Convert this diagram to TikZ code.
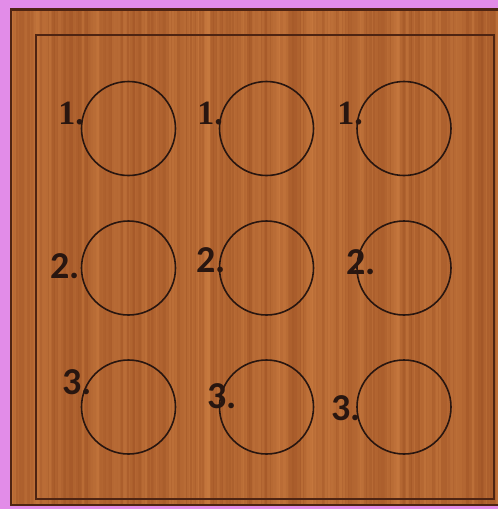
\documentclass[tikz,border=0pt]{standalone}
\usepackage{fontspec}
\newfontfamily\serifbold{Liberation Serif}
\newfontfamily\sanslabel{Carlito}
\definecolor{pinkbg}{RGB}{226,140,232}
\definecolor{woodlight}{RGB}{204,126,66}
\definecolor{wooddark}{RGB}{158,82,36}
\definecolor{woodedge}{RGB}{78,36,18}
\definecolor{ink}{RGB}{40,22,16}
\begin{document}
\begin{tikzpicture}[x=1pt,y=-1pt,
  hole/.style={circle, draw=ink, line width=1.6pt, minimum size=94pt, inner sep=0pt},
  numA/.style={inner sep=0pt, text=ink, font=\serifbold\bfseries\fontsize{34}{34}\selectfont},
  numB/.style={inner sep=0pt, text=ink, font=\sanslabel\bfseries\fontsize{38}{38}\selectfont},
  frame/.style={draw=woodedge, line width=2pt}]
\useasboundingbox (0,0) rectangle (498,509);
\fill[pinkbg] (0,0) rectangle (498,509);
\fill[wooddark] (10,8) rectangle (498,506);
\pgfmathsetseed{11}
\gdef\prevshade{50}
\foreach \i in {0,...,325}{
  \pgfmathsetmacro{\shade}{int(0.55*\prevshade+0.45*rnd*100)}
  \xdef\prevshade{\shade}
  \fill[woodlight!\shade!wooddark] ({10+1.5*\i},8) rectangle ({11.7+1.5*\i},506);
}
% board edge and inner frame
\draw[frame, line width=2.5pt] (11,9.5) rectangle (500,505);
\draw[frame] (36,35) rectangle (494,499);
% holes
\node[hole] (c11) at (128.5,128.5) {};
\node[hole] (c12) at (266.5,128.5) {};
\node[hole] (c13) at (404,128.5) {};
\node[hole] (c21) at (128.5,268) {};
\node[hole] (c22) at (266.5,268) {};
\node[hole] (c23) at (404,268) {};
\node[hole] (c31) at (128.5,407) {};
\node[hole] (c32) at (266.5,407) {};
\node[hole] (c33) at (404,407) {};
% labels
\node[numA] (l11) at (71,114) {1.};
\node[numA] (l12) at (210,114) {1.};
\node[numA] (l13) at (350,114) {1.};
\node[numB] (l21) at (65,266) {2.};
\node[numB] (l22) at (211,260) {2.};
\node[numB] (l23) at (361,262) {2.};
\node[numB] (l31) at (77,382) {3.};
\node[numB] (l32) at (222,396) {3.};
\node[numB] (l33) at (346,408) {3.};
\end{tikzpicture}
\end{document}
